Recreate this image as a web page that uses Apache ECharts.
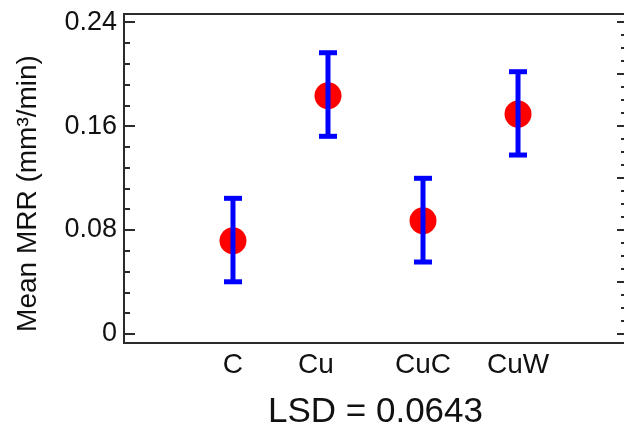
<!DOCTYPE html>
<html>
<head>
<meta charset="utf-8">
<script src="https://cdn.jsdelivr.net/npm/echarts@6/dist/echarts.min.js"></script>
<style>
  html, body { margin: 0; padding: 0; background: #fff; }
  #chart { width: 624px; height: 430px; }
</style>
</head>
<body>
<div id="chart"></div>
<script>
// data
var categories = ['C', 'Cu', 'CuC', 'CuW'];
var positions = [1, 2, 3, 4];
var means = [0.0718, 0.1833, 0.0872, 0.1692];
var lower = [0.0402, 0.1521, 0.0554, 0.1377];
var upper = [0.1044, 0.2164, 0.1198, 0.2018];

// tick values
var leftMajor = [0, 0.08, 0.16, 0.24];
var leftMinor = [0.016, 0.032, 0.048, 0.064, 0.096, 0.112, 0.128, 0.144, 0.176, 0.192, 0.208, 0.224];
var rightMajor = [0, 0.04, 0.08, 0.12, 0.16, 0.2, 0.24];
var rightMinor = [0.01, 0.02, 0.03, 0.05, 0.06, 0.07, 0.09, 0.1, 0.11, 0.13, 0.14, 0.15,
                  0.17, 0.18, 0.19, 0.21, 0.22, 0.23];

var yMin = -0.0069, yMax = 0.2462;
var frameColor = '#2b2b2b';
var font = 'Liberation Sans, Arial, sans-serif';

var chart = echarts.init(document.getElementById('chart'));

function yAx(pos, ticks, len, showLabel) {
    return {
        type: 'value',
        position: pos,
        min: yMin,
        max: yMax,
        axisLine: {show: false, onZero: false},
        splitLine: {show: false},
        axisTick: {
            show: true,
            inside: true,
            length: len,
            customValues: ticks,
            lineStyle: {color: frameColor, width: 2}
        },
        axisLabel: {
            show: showLabel,
            customValues: ticks,
            margin: 7,
            fontFamily: font,
            fontSize: 27,
            color: '#111',
            formatter: function (v) {
                return v === 0 ? '0' : v.toFixed(2);
            }
        }
    };
}

var yAxes = [
    yAx('left', leftMajor, 11, true),
    yAx('left', leftMinor, 6, false),
    yAx('right', rightMajor, 10, false),
    yAx('right', rightMinor, 6, false)
];
yAxes[0].name = 'Mean MRR (mm³/min)';
yAxes[0].nameLocation = 'middle';
yAxes[0].nameGap = 82;
yAxes[0].nameTextStyle = {fontFamily: font, fontSize: 28, color: '#111', padding: [0, 30, 0, 0]};

var pointData = positions.map(function (x, i) { return [x, means[i]]; });
var barData = positions.map(function (x, i) { return [x, lower[i], upper[i]]; });

var option = {
    backgroundColor: '#fff',
    animation: false,
    grid: {
        left: 124,
        width: 503,
        top: 14,
        bottom: 87,
        outerBoundsMode: 'none',
        show: true,
        borderColor: frameColor,
        borderWidth: 2
    },
    xAxis: {
        type: 'value',
        min: -0.147,
        max: 5.147,
        axisLine: {show: false, onZero: false},
        axisTick: {show: false},
        splitLine: {show: false},
        axisLabel: {
            customValues: positions,
            margin: 8,
            fontFamily: font,
            fontSize: 28,
            color: '#111',
            formatter: function (v) {
                var name = categories[positions.indexOf(v)];
                return name === 'Cu' ? '{s|' + name + '}' : name;
            },
            rich: {s: {fontFamily: font, fontSize: 28, color: '#111', padding: [0, 24, 0, 0]}}
        },
        name: 'LSD = 0.0643',
        nameLocation: 'middle',
        nameGap: 52,
        nameTextStyle: {fontFamily: font, fontSize: 35, color: '#111'}
    },
    yAxis: yAxes,
    series: [
        {
            type: 'scatter',
            data: pointData,
            symbol: 'circle',
            symbolSize: 27,
            itemStyle: {color: '#ff0000', opacity: 1},
            z: 2
        },
        {
            type: 'custom',
            data: barData,
            z: 3,
            renderItem: function (params, api) {
                var x = api.value(0);
                var lo = api.coord([x, api.value(1)]);
                var hi = api.coord([x, api.value(2)]);
                var cap = 9;
                var style = {stroke: '#0000ff', lineWidth: 5};
                return {
                    type: 'group',
                    children: [
                        {type: 'line', shape: {x1: hi[0], y1: hi[1], x2: lo[0], y2: lo[1]}, style: style},
                        {type: 'line', shape: {x1: hi[0] - cap, y1: hi[1], x2: hi[0] + cap, y2: hi[1]}, style: style},
                        {type: 'line', shape: {x1: lo[0] - cap, y1: lo[1], x2: lo[0] + cap, y2: lo[1]}, style: style}
                    ]
                };
            }
        }
    ]
};

chart.setOption(option);
</script>
</body>
</html>
